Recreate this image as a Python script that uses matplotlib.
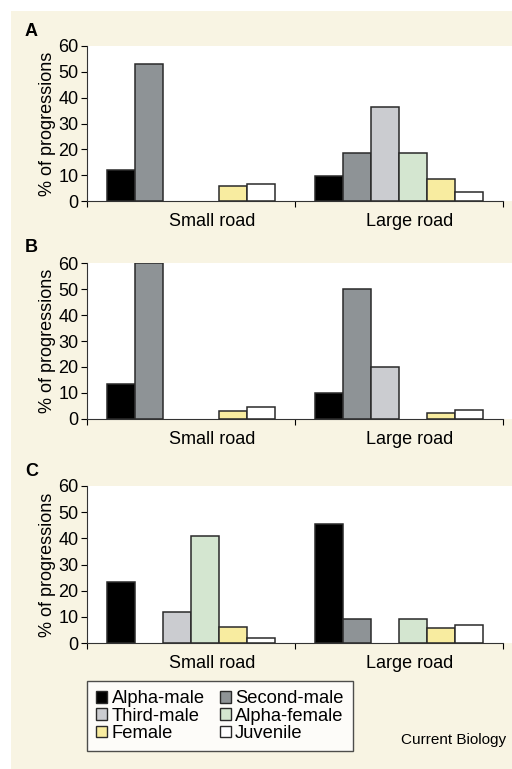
import matplotlib.pyplot as plt
import matplotlib.patches as mpatches
import numpy as np

plt.rcParams['font.family'] = ['Liberation Sans', 'DejaVu Sans']

groups = ['Small road', 'Large road']
classes = ['Alpha-male', 'Second-male', 'Third-male', 'Alpha-female', 'Female', 'Juvenile']
colors = ['#000000', '#8e9396', '#cbccd0', '#d4e6d0', '#f8eca0', '#ffffff']

# % of progressions per class, [small road, large road]
panel_a = [[12, 9.5], [53, 18.5], [0, 36.5], [0, 18.5], [6, 8.5], [6.5, 3.3]]
panel_b = [[13.5, 10], [60, 50], [0, 20], [0, 0], [3, 2.3], [4.8, 3.3]]
panel_c = [[23.5, 45.5], [0, 9], [12, 0], [41, 9], [6, 5.8], [2, 6.8]]
panels = [('A', panel_a), ('B', panel_b), ('C', panel_c)]

W, H = 512, 769
fig = plt.figure(figsize=(W / 100, H / 100), dpi=100)
fig.patch.set_facecolor('white')
fig.patches.append(mpatches.Rectangle((11 / W, 0), 1, 1 - 11 / H, transform=fig.transFigure,
                                      facecolor='#f8f4e3', edgecolor='none', zorder=-10))

# pixel boxes (top, bottom) for each panel
boxes = [(46, 201), (263, 419), (486, 643)]
left, right = 87, 503
bw = 0.135

for (letter, vals), (top, bot) in zip(panels, boxes):
    ax = fig.add_axes([left / W, 1 - bot / H, (right - left) / W, (bot - top) / H])
    # white plot background running to the right edge
    fig.patches.append(mpatches.Rectangle((left / W, 1 - bot / H), 1, (bot - top) / H,
                                          transform=fig.transFigure, facecolor='white',
                                          edgecolor='none', zorder=-5))
    ax.patch.set_alpha(0)
    centers = np.array([0.5, 1.5])
    for i, (cls, v) in enumerate(zip(classes, vals)):
        x = centers + (i - 2.5) * bw
        h = np.array(v, dtype=float)
        mask = h > 0
        ax.bar(x[mask], h[mask], width=bw, color=colors[i], edgecolor='#2a2a2a',
               linewidth=1.1, label=cls)
    ax.set_xlim(0, 2)
    ax.set_ylim(0, 60)
    ax.set_yticks(range(0, 61, 10))
    ax.set_xticks([0, 1, 2])
    ax.set_xticklabels([])
    ax.set_xticks([0.6, 1.55], minor=True)
    ax.set_xticklabels(groups, minor=True, fontsize=13)
    ax.tick_params(axis='x', which='minor', length=0, pad=9)
    ax.tick_params(axis='x', which='major', length=4, direction='out')
    ax.tick_params(axis='y', labelsize=13, length=4, pad=2)
    for s in ['top', 'right']:
        ax.spines[s].set_visible(False)
    for s in ['left', 'bottom']:
        ax.spines[s].set_color('#333333')
    ax.set_ylabel('% of progressions', fontsize=13, labelpad=2)
    fig.text(25 / W, 1 - (top - 15) / H, letter, fontsize=13, fontweight='bold',
             ha='left', va='center')

handles = [mpatches.Patch(facecolor=c, edgecolor='#2a2a2a', linewidth=1.0, label=l)
           for c, l in zip(colors, classes)]
order = [0, 2, 4, 1, 3, 5]
leg = fig.legend([handles[i] for i in order], [classes[i] for i in order], ncol=2,
                 loc='upper left', bbox_to_anchor=(87 / W, 1 - 681 / H), frameon=True,
                 fontsize=13.2, handlelength=0.6, handleheight=0.6, handletextpad=0.25,
                 columnspacing=0.8, labelspacing=0.02, borderpad=0.5, borderaxespad=0,
                 fancybox=False)
leg.get_frame().set_edgecolor('#222222')
leg.get_frame().set_linewidth(1.0)

fig.text(401 / W, 1 - 740 / H, 'Current Biology', fontsize=11, ha='left', va='center')

fig.savefig('out.png', dpi=100, facecolor=fig.get_facecolor())
